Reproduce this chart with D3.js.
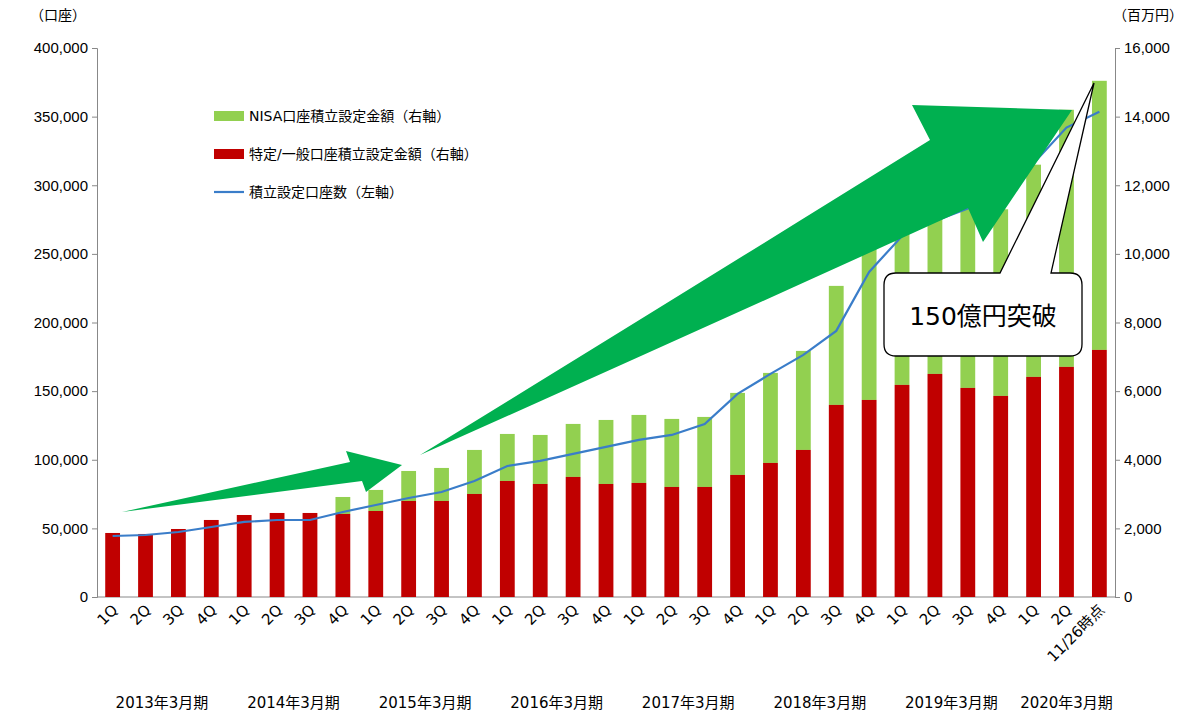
<!DOCTYPE html><html><head><meta charset="utf-8"><script src="https://cdn.jsdelivr.net/npm/d3@7"></script>
<style>body{margin:0;background:#fff;font-family:Verdana,"DejaVu Sans","Noto Sans CJK JP",sans-serif}</style></head><body><svg id="c" width="1200" height="728"></svg><script>
const quarters=["1Q","2Q","3Q","4Q","1Q","2Q","3Q","4Q","1Q","2Q","3Q","4Q","1Q","2Q","3Q","4Q","1Q","2Q","3Q","4Q","1Q","2Q","3Q","4Q","1Q","2Q","3Q","4Q","1Q","2Q","11/26時点"];
const years=["2013年3月期","2014年3月期","2015年3月期","2016年3月期","2017年3月期","2018年3月期","2019年3月期","2020年3月期"];
const redVals=[1866,1837,1982,2245,2390,2449,2449,2420,2507,2799,2799,3003,3382,3294,3499,3294,3324,3207,3207,3557,3907,4286,5598,5743,6181,6501,6093,5860,6414,6706,7201];
const totalVals=[1866,1837,1982,2245,2390,2449,2449,2915,3120,3673,3761,4286,4752,4723,5044,5160,5306,5190,5248,5948,6531,7172,9067,10300,10800,11200,11500,11300,12600,14200,15044];
const accounts=[44460,45190,47380,51000,54670,56120,56120,61950,67050,72160,76530,84550,95480,99130,104230,109330,114430,118080,126090,147960,162540,176380,193880,236880,263000,274000,283000,298000,316000,342000,353500];
const leftTicks=[0,50000,100000,150000,200000,250000,300000,350000,400000];
const rightTicks=[0,2000,4000,6000,8000,10000,12000,14000,16000];
const svg=d3.select("#c");
const L=97,R=1115,T=48,B=597;
const idx=d3.range(quarters.length);
const x=d3.scaleBand().domain(idx).range([L,R]).paddingInner(0.55).paddingOuter(0.25);
const yL=d3.scaleLinear().domain([0,400000]).range([B,T]);
const yR=d3.scaleLinear().domain([0,16000]).range([B,T]);
const fmt=d3.format(",");
const gl=svg.append("g").attr("transform",`translate(${L},0)`).call(d3.axisLeft(yL).tickValues(leftTicks).tickFormat(fmt).tickSize(5));
const gr=svg.append("g").attr("transform",`translate(${R},0)`).call(d3.axisRight(yR).tickValues(rightTicks).tickFormat(fmt).tickSize(5));
[gl,gr].forEach(g=>{g.selectAll("text").attr("font-size",15).attr("fill","#000");g.selectAll("path,line").attr("stroke","#888");});
gl.selectAll("text").attr("x",-9);gr.selectAll("text").attr("x",9);
svg.append("line").attr("x1",L).attr("x2",R).attr("y1",B).attr("y2",B).attr("stroke","#888");
svg.append("text").attr("x",30).attr("y",20).attr("font-size",14).text("（口座）");
svg.append("text").attr("x",1113).attr("y",20).attr("font-size",14).text("（百万円）");
svg.selectAll(".g").data(idx).join("rect").attr("x",i=>x(i)).attr("width",x.bandwidth()).attr("y",i=>yR(totalVals[i])).attr("height",i=>yR(redVals[i])-yR(totalVals[i])).attr("fill","#92d050");
svg.selectAll(".r").data(idx).join("rect").attr("x",i=>x(i)).attr("width",x.bandwidth()).attr("y",i=>yR(redVals[i])).attr("height",i=>B-yR(redVals[i])).attr("fill","#c00000");
svg.append("path").datum(idx).attr("d",d3.line().x(i=>x(i)+x.bandwidth()/2).y(i=>yL(accounts[i]))).attr("fill","none").attr("stroke","#3a7dc9").attr("stroke-width",2.2);
idx.forEach(i=>{const cx=x(i)+x.bandwidth()/2;
 svg.append("text").attr("transform",`translate(${cx+6},${B+14}) rotate(-45)`).attr("text-anchor","end").attr("font-size",15).text(quarters[i]);});
years.forEach((y,k)=>{const a=x(k*4),b=x(Math.min(k*4+3,30))+x.bandwidth();
 svg.append("text").attr("x",(a+b)/2).attr("y",708).attr("text-anchor","middle").attr("font-size",15).text(y);});
svg.append("path").attr("d","M122,512 L350,462 L346,451 L402,465 L366,492 L362,481 Z").attr("fill","#00b050");
svg.append("path").attr("d","M420,455 Q640,320 930,140 L912,105 L1072,110 L983,242 L968,208 Q700,330 420,455 Z").attr("fill","#00b050");
const leg=[["NISA口座積立設定金額（右軸）","#92d050","rect"],["特定/一般口座積立設定金額（右軸）","#c00000","rect"],["積立設定口座数（左軸）","#3a7dc9","line"]];
leg.forEach((d,k)=>{const yy=116+k*38;
 if(d[2]=="rect")svg.append("rect").attr("x",214).attr("y",yy-5).attr("width",30).attr("height",10).attr("fill",d[1]);
 else svg.append("line").attr("x1",214).attr("x2",244).attr("y1",yy).attr("y2",yy).attr("stroke",d[1]).attr("stroke-width",2.2);
 svg.append("text").attr("x",249).attr("y",yy+5).attr("font-size",14).text(d[0]);});
svg.append("path").attr("d","M896,273 L1000,273 L1094,83 L1051,273 L1070,273 Q1082,273 1082,285 L1082,344 Q1082,356 1070,356 L896,356 Q884,356 884,344 L884,285 Q884,273 896,273 Z").attr("fill","#fff").attr("stroke","#000").attr("stroke-width",1.3);
svg.append("text").attr("x",983).attr("y",325).attr("text-anchor","middle").attr("font-size",25).text("150億円突破");
</script></body></html>
